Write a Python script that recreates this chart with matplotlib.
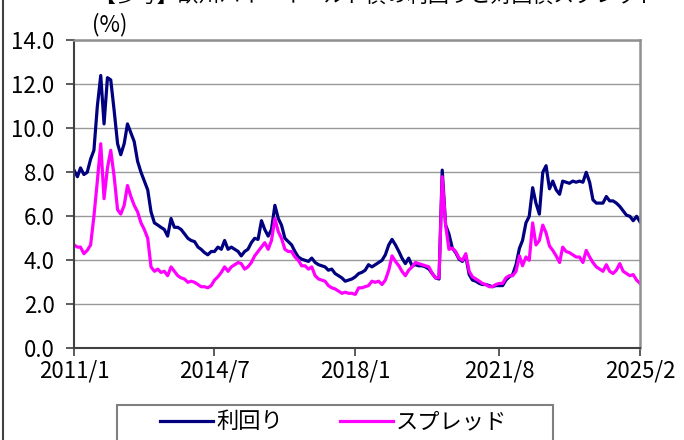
import matplotlib
matplotlib.use("Agg")
import matplotlib.pyplot as plt
from matplotlib.patches import Rectangle
from matplotlib.lines import Line2D
import pandas as pd

plt.rcParams['font.family'] = ['Noto Sans CJK JP', 'DejaVu Sans']

# monthly, 2011/1 .. 2025/2
dates = pd.date_range("2011-01-01", "2025-02-01", freq="MS")

yield_pct = [
    8.1, 7.8, 8.2, 7.9, 8.0, 8.6, 9.0, 11.0, 12.4, 10.2, 12.3, 12.2,     # 2011
    10.8, 9.3, 8.8, 9.3, 10.2, 9.8, 9.4, 8.5, 8.0, 7.6, 7.2, 6.2,        # 2012
    5.7, 5.6, 5.5, 5.4, 5.1, 5.9, 5.5, 5.5, 5.4, 5.2, 5.0, 4.9,          # 2013
    4.85, 4.6, 4.5, 4.35, 4.25, 4.4, 4.4, 4.6, 4.5, 4.9, 4.5, 4.6,       # 2014
    4.5, 4.4, 4.2, 4.4, 4.5, 4.8, 5.0, 4.95, 5.8, 5.4, 5.1, 5.4,         # 2015
    6.5, 5.9, 5.6, 5.0, 4.85, 4.7, 4.4, 4.15, 4.05, 4.0, 3.95, 4.1,      # 2016
    3.9, 3.8, 3.75, 3.7, 3.55, 3.6, 3.4, 3.3, 3.2, 3.05, 3.1, 3.15,      # 2017
    3.25, 3.4, 3.45, 3.55, 3.8, 3.7, 3.8, 3.9, 4.0, 4.25, 4.7, 4.95,     # 2018
    4.7, 4.4, 4.1, 3.85, 4.1, 3.75, 3.8, 3.75, 3.75, 3.7, 3.6, 3.4,      # 2019
    3.2, 3.15, 8.1, 5.6, 5.2, 4.55, 4.35, 4.05, 3.95, 4.2, 3.35, 3.1,    # 2020
    3.05, 2.95, 2.9, 2.9, 2.85, 2.8, 2.85, 2.85, 2.85, 3.1, 3.25, 3.35,  # 2021
    3.8, 4.55, 4.9, 5.7, 6.0, 7.3, 6.6, 6.1, 8.0, 8.3, 7.25, 7.6,        # 2022
    7.2, 7.0, 7.6, 7.55, 7.5, 7.6, 7.55, 7.6, 7.55, 8.0, 7.55, 6.75,     # 2023
    6.6, 6.6, 6.6, 6.9, 6.7, 6.7, 6.6, 6.45, 6.25, 6.05, 6.0, 5.8,       # 2024
    6.0, 5.75,                                                            # 2025
]

spread_pct = [
    4.7, 4.6, 4.6, 4.3, 4.45, 4.7, 6.0, 7.6, 9.3, 6.8, 8.2, 9.0,
    7.8, 6.3, 6.1, 6.5, 7.4, 6.9, 6.5, 6.2, 5.7, 5.4, 5.0, 3.7,
    3.5, 3.6, 3.45, 3.5, 3.3, 3.7, 3.5, 3.3, 3.2, 3.15, 3.0, 3.05,
    3.0, 2.9, 2.8, 2.8, 2.75, 2.85, 3.1, 3.25, 3.45, 3.7, 3.5, 3.7,
    3.8, 3.9, 3.85, 3.6, 3.7, 3.9, 4.2, 4.4, 4.6, 4.8, 4.5, 4.9,
    5.9, 5.3, 5.0, 4.5, 4.4, 4.4, 4.15, 4.0, 3.75, 3.75, 3.6, 3.7,
    3.3, 3.15, 3.1, 3.05, 2.85, 2.75, 2.7, 2.6, 2.5, 2.55, 2.5, 2.5,
    2.45, 2.75, 2.75, 2.8, 2.85, 3.05, 3.0, 3.05, 2.9, 3.1, 3.55, 4.2,
    3.95, 3.75, 3.5, 3.3, 3.55, 3.7, 3.9, 3.85, 3.8, 3.75, 3.7, 3.4,
    3.2, 3.2, 7.8, 5.6, 4.5, 4.55, 4.4, 4.1, 4.0, 4.3, 3.5, 3.25,
    3.15, 3.05, 2.95, 2.9, 2.8, 2.8, 2.9, 2.95, 2.95, 3.2, 3.3, 3.3,
    3.5, 4.2, 3.75, 4.15, 4.0, 5.7, 4.7, 4.9, 5.6, 5.25, 4.65, 4.45,
    4.2, 3.9, 4.6, 4.4, 4.35, 4.25, 4.15, 4.15, 3.9, 4.45, 4.15, 3.9,
    3.7, 3.6, 3.5, 3.8, 3.5, 3.4, 3.55, 3.85, 3.5, 3.4, 3.3, 3.35,
    3.1, 2.95,
]

tick_dates = ["2011-01-01", "2014-07-01", "2018-01-01", "2021-08-01", "2025-02-01"]
tick_labels = ["2011/1", "2014/7", "2018/1", "2021/8", "2025/2"]
y_ticks = [0, 2, 4, 6, 8, 10, 12, 14]
series_names = ["利回り", "スプレッド"]
title = "【参考】欧州ハイ・イールド債の利回りと対国債スプレッド"

FS = 16
NAVY = "#000080"
MAGENTA = "#FF00FF"

fig = plt.figure(figsize=(6.84, 4.40), dpi=100)
ax = fig.add_axes([0.1082, 0.2084, 0.8275, 0.70])

ax.plot(dates, yield_pct, color=NAVY, lw=2.3, solid_joinstyle="round")
ax.plot(dates, spread_pct, color=MAGENTA, lw=2.3, solid_joinstyle="round")

ax.set_xlim(pd.Timestamp(tick_dates[0]), pd.Timestamp(tick_dates[-1]))
ax.set_ylim(0, 14)
ax.set_yticks(y_ticks)
ax.set_yticklabels([f"{v:.1f}" for v in y_ticks])
ax.set_xticks([pd.Timestamp(d) for d in tick_dates])
ax.set_xticklabels(tick_labels)
ax.grid(axis="y", color="#999999", lw=1.0)
ax.set_axisbelow(True)

ax.tick_params(axis="y", direction="out", length=6, width=1.2, color="#404040",
               labelsize=FS, pad=8)
ax.tick_params(axis="x", direction="out", length=6, width=1.2, color="#404040",
               labelsize=FS, pad=2)
for side in ["left", "bottom"]:
    ax.spines[side].set_color("#404040")
    ax.spines[side].set_linewidth(1.5)
for side in ["top", "right"]:
    ax.spines[side].set_color("#909090")
    ax.spines[side].set_linewidth(1.8)

fig.text(0.135, 0.945, "(%)", fontsize=FS, ha="left", va="center")
# the title sits mostly above the visible area, as in the cropped original
fig.text(0.55, 0.9955, title, fontsize=15, ha="center", va="baseline")

# chart area border (left edge visible) and legend box
fig.add_artist(Line2D([0.004, 0.004], [0, 1], color="#404040", lw=1.5))
fig.add_artist(Rectangle((117 / 684, -0.05), 436 / 684, 0.05 + 35 / 440,
                         transform=fig.transFigure, fill=False,
                         edgecolor="#808080", lw=1.5))

handles = [Line2D([], [], color=NAVY, lw=2.3), Line2D([], [], color=MAGENTA, lw=2.3)]
fig.legend(handles, series_names, loc="center", bbox_to_anchor=(0.488, 0.041),
           ncol=2, frameon=False, fontsize=FS, handlelength=2.35,
           handletextpad=0.15, columnspacing=2.6)

fig.savefig("out.png", dpi=100)
